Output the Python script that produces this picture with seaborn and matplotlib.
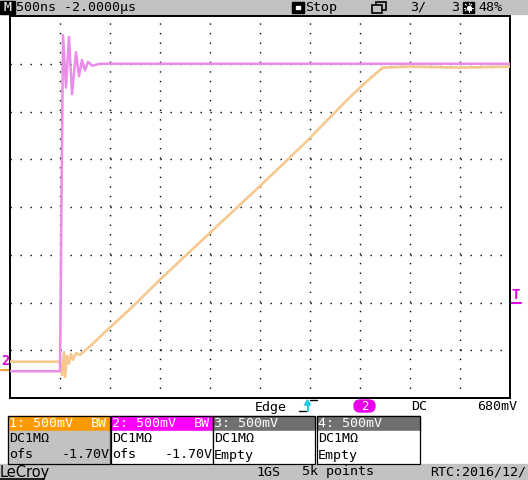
import numpy as np
import pandas as pd
import seaborn as sns
import matplotlib.pyplot as plt
from matplotlib.patches import Rectangle, Polygon, FancyBboxPatch

# channel traces: time in microseconds (trigger at 0), voltage in volts
ch1_t = [-0.5, 0.0, 0.02, 0.04, 0.05, 0.07, 0.09, 0.11, 0.13, 0.16, 0.20,
         0.35, 0.47, 0.75, 1.0, 1.5, 2.0, 2.45, 2.87, 3.05, 3.23, 3.5, 4.0, 4.5]
ch1_v = [0.08, 0.08, -0.06, 0.18, -0.08, 0.14, 0.06, 0.16, 0.10, 0.17, 0.15,
         0.29, 0.41, 0.68, 0.94, 1.43, 1.92, 2.37, 2.82, 3.00, 3.16, 3.17, 3.16, 3.17]
ch2_t = [-0.5, 0.0, 0.03, 0.06, 0.09, 0.12, 0.16, 0.19, 0.22, 0.25, 0.28, 0.32, 0.40, 4.5]
ch2_v = [-0.02, -0.02, 3.50, 2.95, 3.48, 2.88, 3.32, 3.07, 3.24, 3.13, 3.22, 3.18, 3.20, 3.20]

time_div = 0.5      # us / div
volt_div = 0.5      # V / div
offset = -1.70      # V
trig_level = 0.68   # V
t_left = -0.5
n_xdiv, n_ydiv = 10, 8

ch1_color = '#f7c88e'
ch2_color = '#ea8ce8'
bar_gray = '#c2c2c2'

W, H = 528, 480
sns.set_style("white")
plt.rcParams['font.family'] = ['DejaVu Sans Mono', 'DejaVu Sans']

fig = plt.figure(figsize=(W / 100, H / 100), dpi=100)
bg = fig.add_axes([0, 0, 1, 1])
bg.set_xlim(0, W)
bg.set_ylim(H, 0)
bg.axis('off')

# grid area
gx0, gx1, gy0, gy1 = 10, 510, 16, 398
ax = fig.add_axes([gx0 / W, 1 - gy1 / H, (gx1 - gx0) / W, (gy1 - gy0) / H])
ax.set_facecolor('white')
t_right = t_left + n_xdiv * time_div
v_mid = -offset
ax.set_xlim(t_left, t_right)
ax.set_ylim(v_mid - n_ydiv / 2 * volt_div, v_mid + n_ydiv / 2 * volt_div)
for k in range(1, n_xdiv):
    ax.axvline(t_left + k * time_div, color='black', lw=1.0, ls=(0, (1, 5.9)), zorder=1)
for k in range(1, n_ydiv):
    ax.axhline(v_mid - n_ydiv / 2 * volt_div + k * volt_div, color='black',
               lw=1.0, ls=(0, (1, 6.2)), zorder=1)
for s in ax.spines.values():
    s.set_color('black')
    s.set_linewidth(1.4)
ax.set_xticks([])
ax.set_yticks([])

df1 = pd.DataFrame({'t': ch1_t, 'v': ch1_v})
df2 = pd.DataFrame({'t': ch2_t, 'v': ch2_v})
sns.lineplot(data=df1, x='t', y='v', ax=ax, color=ch1_color, lw=1.9,
             sort=False, estimator=None, zorder=3)
sns.lineplot(data=df2, x='t', y='v', ax=ax, color=ch2_color, lw=1.8,
             sort=False, estimator=None, zorder=4)
ax.set_xlabel('')
ax.set_ylabel('')


def txt(x, y, s, color='black', ha='left', size=9.6, **kw):
    bg.text(x, y, s, color=color, ha=ha, va='center', fontsize=size, **kw)


# ---- top status bar
bg.add_patch(Rectangle((0, 0), W, 14, color=bar_gray, zorder=0))
bg.add_patch(Rectangle((0, 0.5), 15, 13.5, color='black'))
txt(7.5, 7.5, 'M', color='white', ha='center')
txt(16, 7.5, '500ns -2.0000µs')
bg.add_patch(Rectangle((292, 2), 12, 11, color='black'))
bg.add_patch(Rectangle((296, 6), 4, 3, color='white'))
txt(305, 7.5, 'Stop')
bg.add_patch(Rectangle((376, 2), 10, 8, fill=False, ec='black', lw=1.2))
bg.add_patch(Rectangle((372, 5), 10, 8, fc=bar_gray, ec='black', lw=1.2))
txt(410, 7.5, '3/')
txt(451, 7.5, '3')
bg.add_patch(Rectangle((463, 2), 11, 11, color='black'))
bg.scatter([468.5], [7.5], s=8, color='white', zorder=5)
for a in np.linspace(0, 2 * np.pi, 8, endpoint=False):
    bg.plot([468.5 + 3.2 * np.cos(a), 468.5 + 4.6 * np.cos(a)],
            [7.5 + 3.2 * np.sin(a), 7.5 + 4.6 * np.sin(a)], color='white', lw=0.8)
txt(478, 7.5, '48%')

# ---- markers around the grid
trig_x = gx0 + (0 - t_left) / time_div * 50
bg.add_patch(Polygon([[trig_x - 5, 17], [trig_x + 5, 17], [trig_x, 22]], color='#e000e0'))
txt(5, 361, '2', color='#e000e0', ha='center', size=10, weight='bold')
bg.plot([1, 9], [370, 370], color='#f0a030', lw=1.5)
t_y = gy0 + (v_mid + n_ydiv / 2 * volt_div - trig_level) / volt_div * (gy1 - gy0) / n_ydiv
txt(516, t_y - 9, 'T', color='#e000e0', ha='center', size=10, weight='bold')
bg.plot([511, 521], [t_y - 1, t_y - 1], color='#e000e0', lw=1.5)

# ---- trigger line
txt(255, 407, 'Edge')
bg.plot([299, 306], [411, 411], color='black', lw=1)
bg.plot([307.5, 307.5], [411, 404], color='#20c8e8', lw=1.5)
bg.add_patch(Polygon([[304.5, 405], [310.5, 405], [307.5, 400]], color='#20c8e8'))
bg.plot([310, 317], [400, 400], color='black', lw=1)
bg.add_patch(FancyBboxPatch((354, 400), 21, 12, boxstyle='round,pad=0,rounding_size=6',
                            color='#e800e8'))
txt(364.5, 406.5, '2', color='white', ha='center', size=9)
txt(411, 407, 'DC')
txt(477, 407, '680mV')

# ---- channel boxes
boxes = [
    (8, 110, '1: 500mV', 'BW', '#ff9a00', bar_gray, 'ofs', '-1.70V'),
    (111, 213, '2: 500mV', 'BW', '#ff00ff', 'white', 'ofs', '-1.70V'),
    (213, 315, '3: 500mV', '', '#6f6f6f', 'white', 'Empty', ''),
    (317, 420, '4: 500mV', '', '#6f6f6f', 'white', 'Empty', ''),
]
for x0, x1, head, bw, hcol, bcol, line3, val in boxes:
    bg.add_patch(Rectangle((x0, 416), x1 - x0, 15, color=hcol))
    bg.add_patch(Rectangle((x0, 431), x1 - x0, 33, color=bcol))
    bg.add_patch(Rectangle((x0, 416), x1 - x0, 48, fill=False, ec='black', lw=0.9))
    txt(x0 + 1, 423.5, head, color='white')
    if bw:
        txt(x1 - 3, 423.5, bw, color='white', ha='right')
    txt(x0 + 1, 439, 'DC1MΩ')
    txt(x0 + 1, 455, line3)
    if val:
        txt(x1, 455, val, ha='right')

# ---- bottom bar
bg.add_patch(Rectangle((0, 464), W, 16, color=bar_gray, zorder=0))
bg.text(0, 472, 'LeCroy', family='DejaVu Sans', fontsize=10.5, va='center',
        ha='left', color='black')
bg.plot([0, 44], [479, 479], color='black', lw=1.2)
txt(256, 472, '1GS')
txt(302, 472, '5k points')
txt(430, 472, 'RTC:2016/12/')

fig.savefig('out.png', dpi=100)
